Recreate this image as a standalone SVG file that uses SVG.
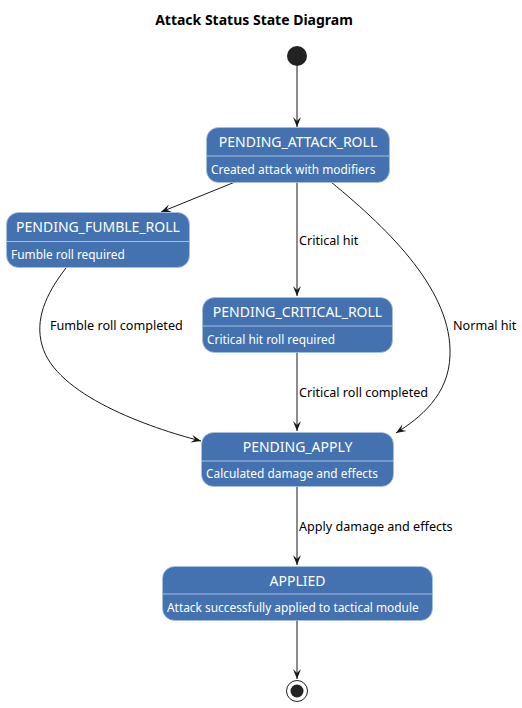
<svg xmlns="http://www.w3.org/2000/svg" width="522" height="708" viewBox="0 0 522 708">
<style>
.box{fill:#4472B0;stroke:#A8C0E0;stroke-width:0.8}
.div{stroke:#A8C0E0;stroke-width:1}
.nm{font-family:"Noto Sans",sans-serif;font-size:14px;fill:#FFFFFF;text-anchor:middle}
.ds{font-family:"Noto Sans",sans-serif;font-size:11.9px;fill:#FFFFFF}
.lb{font-family:"Noto Sans",sans-serif;font-size:12.6px;fill:#000000}
.ln{fill:none;stroke:#181818;stroke-width:1;marker-end:url(#ah)}
</style>
<defs>
<marker id="ah" viewBox="-11 -5 12 10" refX="0" refY="0" markerWidth="12" markerHeight="10" markerUnits="userSpaceOnUse" orient="auto">
<path d="M0,0 L-10,-4 L-6,0 L-10,4 Z" fill="#181818"/>
</marker>
</defs>
<rect width="522" height="708" fill="#FFFFFF"/>
<text x="254" y="25" font-family="Noto Sans, sans-serif" font-size="14" font-weight="bold" text-anchor="middle" fill="#000000">Attack Status State Diagram</text>

<g id="connectors">
<path class="ln" d="M297,66 L297,127"/>
<path class="ln" d="M235,182 L161,212"/>
<path class="ln" d="M297,182 L297,296"/>
<path class="ln" d="M331,182 C392,232 452,292 450,355 C449,395 420,418 396,433"/>
<path class="ln" d="M66,268 C45,295 35,320 42,345 C55,395 150,428 201,441"/>
<path class="ln" d="M297,352 L297,431"/>
<path class="ln" d="M297,486 L297,565"/>
<path class="ln" d="M297,620 L297,679"/>
<text class="lb" x="299" y="245">Critical hit</text>
<text class="lb" x="453" y="330">Normal hit</text>
<text class="lb" x="50" y="330">Fumble roll completed</text>
<text class="lb" x="299" y="397">Critical roll completed</text>
<text class="lb" x="299" y="531">Apply damage and effects</text>
</g>

<g id="start"><circle cx="297" cy="56" r="10" fill="#222222"/></g>

<g id="PENDING_ATTACK_ROLL">
<rect class="box" x="206.5" y="127.5" width="183" height="55" rx="12"/>
<line class="div" x1="206.5" y1="156" x2="389.5" y2="156"/>
<text class="nm" x="298" y="147">PENDING_ATTACK_ROLL</text>
<text class="ds" x="211" y="174">Created attack with modifiers</text>
</g>

<g id="PENDING_FUMBLE_ROLL">
<rect class="box" x="6.5" y="212.5" width="183" height="55" rx="12"/>
<line class="div" x1="6.5" y1="241.5" x2="189.5" y2="241.5"/>
<text class="nm" x="98" y="232">PENDING_FUMBLE_ROLL</text>
<text class="ds" x="11" y="259">Fumble roll required</text>
</g>

<g id="PENDING_CRITICAL_ROLL">
<rect class="box" x="202.5" y="297.5" width="190" height="55" rx="12"/>
<line class="div" x1="202.5" y1="326" x2="392.5" y2="326"/>
<text class="nm" x="297.5" y="317">PENDING_CRITICAL_ROLL</text>
<text class="ds" x="207" y="344">Critical hit roll required</text>
</g>

<g id="PENDING_APPLY">
<rect class="box" x="201.5" y="432.5" width="192" height="54" rx="12"/>
<line class="div" x1="201.5" y1="461" x2="393.5" y2="461"/>
<text class="nm" x="297.5" y="452">PENDING_APPLY</text>
<text class="ds" x="206" y="478">Calculated damage and effects</text>
</g>

<g id="APPLIED">
<rect class="box" x="162.5" y="566.5" width="270" height="54" rx="12"/>
<line class="div" x1="162.5" y1="594" x2="432.5" y2="594"/>
<text class="nm" x="297.5" y="586">APPLIED</text>
<text class="ds" x="167" y="612">Attack successfully applied to tactical module</text>
</g>

<g id="end">
<circle cx="297" cy="691" r="10.5" fill="none" stroke="#222222" stroke-width="1"/>
<circle cx="297" cy="691" r="6.5" fill="#222222"/>
</g>
</svg>
